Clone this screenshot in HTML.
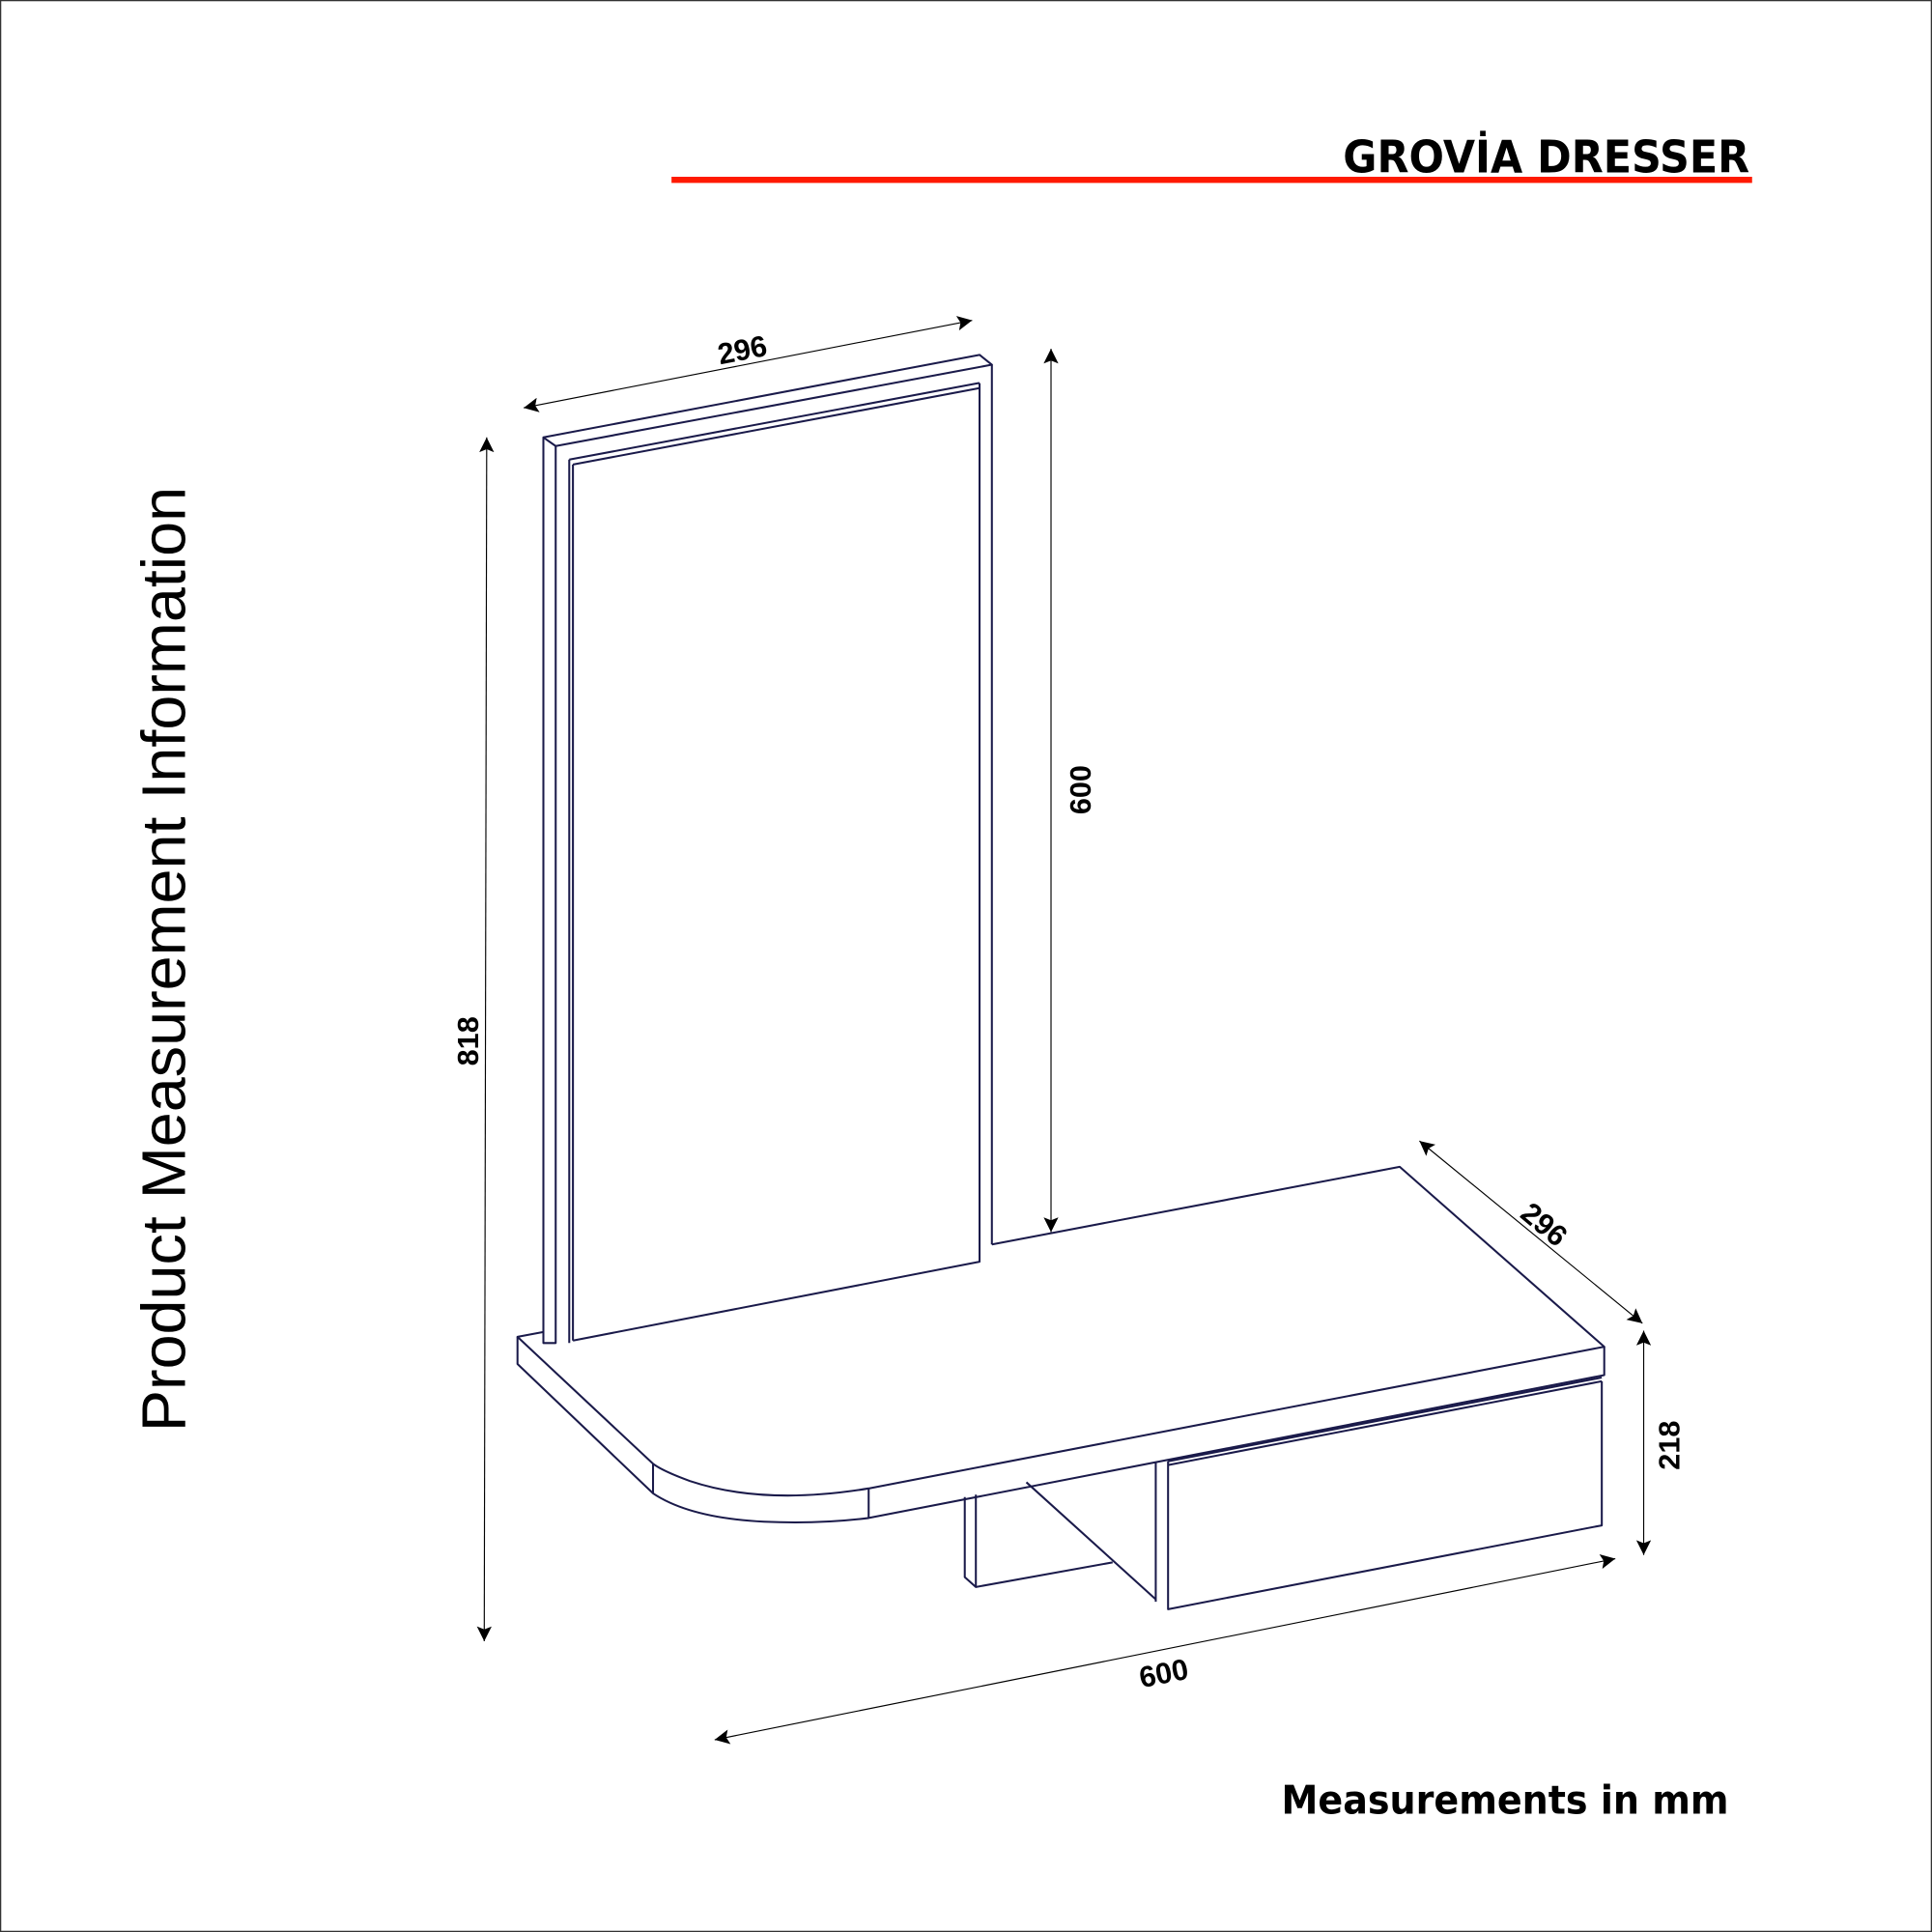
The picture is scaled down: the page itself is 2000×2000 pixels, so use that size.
<!DOCTYPE html>
<html><head><meta charset="utf-8"><style>
html,body{margin:0;padding:0;background:#fff;}
svg{display:block;}
</style></head><body>
<svg width="2000" height="2000" viewBox="0 0 1568 1568" xmlns="http://www.w3.org/2000/svg">
<defs>
<marker id="a" viewBox="0 0 10 10" refX="10" refY="5" markerWidth="12" markerHeight="12" markerUnits="userSpaceOnUse" orient="auto-start-reverse">
<path d="M0,0 L10,5 L0,10 L2,5 z" fill="#000"/>
</marker>
</defs>
<rect x="0.5" y="0.5" width="1567" height="1567" fill="#fff" stroke="#333" stroke-width="1"/>

<text x="1420" y="140" text-anchor="end" font-family="'DejaVu Sans','Liberation Sans',sans-serif" font-weight="bold" font-size="36" textLength="330" lengthAdjust="spacingAndGlyphs">GROVİA DRESSER</text>
<line x1="545" y1="146" x2="1422" y2="146" stroke="#ff1a00" stroke-width="5"/>

<text transform="translate(150,1162) rotate(-90)" font-family="'Liberation Sans',sans-serif" font-size="50" textLength="767" lengthAdjust="spacingAndGlyphs">Product Measurement Information</text>

<text x="1403" y="1472" text-anchor="end" font-family="'DejaVu Sans','Liberation Sans',sans-serif" font-weight="bold" font-size="32" textLength="363" lengthAdjust="spacingAndGlyphs">Measurements in mm</text>

<g fill="none" stroke="#1a1a4a" stroke-width="1.6" stroke-linejoin="round">
<path d="M441,355 L795,288 L805,296 L451,362 Z"/>
<path d="M441,355 L441,1090 L451,1090 L451,362"/>
<path d="M805,296 L805,1010"/>
<path d="M462,373 L794,311 L795,311"/>
<path d="M465,377 L795,315"/>
<path d="M462,373 L462,1090 M465,377 L465,1088"/>
<path d="M795,311 L795,1024 L465,1088"/>
<path d="M805,1010 L1136,947 L1302,1093 L705,1208 Q620,1222 560,1202 Q538,1194 530,1188 L420,1085 L441,1081"/>
<path d="M420,1085 L420,1107 L530,1212 Q560,1232 620,1235 Q665,1237 705,1232 L1302,1116 L1302,1093"/>
<path d="M530,1188 L530,1212 M705,1208 L705,1232"/>
<path d="M948,1186 L1300,1118 M948,1189 L1300,1121"/>
<path d="M948,1186 L948,1306 L1300,1238 L1300,1121"/>
<path d="M938,1187 L938,1300"/>
<path d="M833,1203 L938,1298"/>
<path d="M783,1215 L783,1280 L792,1288 L903,1268"/>
<path d="M792,1213 L792,1288"/>
</g>

<g stroke="#000" stroke-width="0.9" fill="none">
<line x1="425" y1="331" x2="789" y2="260" marker-start="url(#a)" marker-end="url(#a)"/>
<line x1="395" y1="355" x2="393" y2="1332" marker-start="url(#a)" marker-end="url(#a)"/>
<line x1="853" y1="283" x2="853" y2="1000" marker-start="url(#a)" marker-end="url(#a)"/>
<line x1="1152" y1="926" x2="1333" y2="1074" marker-start="url(#a)" marker-end="url(#a)"/>
<line x1="1334" y1="1080" x2="1334" y2="1262" marker-start="url(#a)" marker-end="url(#a)"/>
<line x1="580" y1="1412" x2="1311" y2="1265" marker-start="url(#a)" marker-end="url(#a)"/>
</g>
<g font-family="'Liberation Sans',sans-serif" font-weight="bold" font-size="24" fill="#000" text-anchor="middle">
<text transform="translate(604,292) rotate(-11)">296</text>
<text transform="translate(388,845) rotate(-90)">818</text>
<text transform="translate(885,641) rotate(-90)">600</text>
<text transform="translate(1248,1000) rotate(40)">296</text>
<text transform="translate(1363,1173) rotate(-90)">218</text>
<text transform="translate(946,1366) rotate(-11)">600</text>
</g>
</svg>
</body></html>
